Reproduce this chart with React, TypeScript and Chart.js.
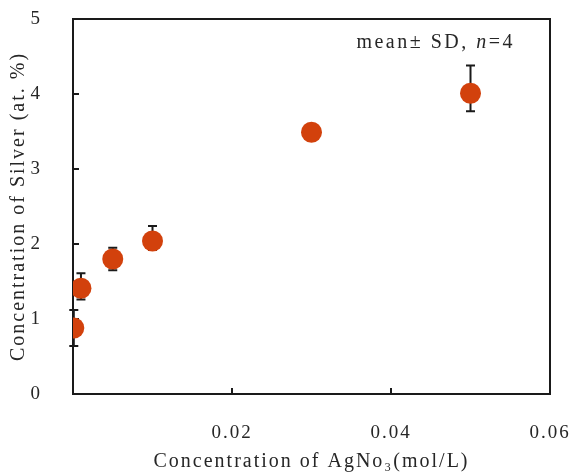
import React, { useEffect, useRef } from 'react';
import { Chart, registerables } from 'chart.js';

Chart.register(...registerables);

// ---- data ----
const concentrations = [0.0001, 0.001, 0.005, 0.01, 0.03, 0.05];
const silverMeans = [0.88, 1.41, 1.8, 2.04, 3.49, 4.01];
const errUp = [0.24, 0.2, 0.15, 0.2, 0.05, 0.37];
const errDown = [0.24, 0.15, 0.15, 0.12, 0.05, 0.24];

const xTitle = 'Concentration of AgNo\u2083(mol/L)';
const yTitle = 'Concentration of Silver (at. %)';
const noteParts = [
  { text: 'mean\u00b1 SD, ', italic: false },
  { text: 'n', italic: true },
  { text: '=4', italic: false },
];
const noteAnchor = { x: 0.0556, y: 4.68 };

const X_MIN = 0;
const X_MAX = 0.06;
const X_STEP = 0.02;
const Y_MIN = 0;
const Y_MAX = 5;
const Y_STEP = 1;

const FONT = "'Liberation Serif', 'Times New Roman', serif";
const TEXT_COLOR = '#262626';
const LINE_COLOR = '#1a1a1a';
const MARKER_COLOR = '#d2410c';

const spacingPlugin = {
  id: 'spacing',
  beforeDraw(chart: any) {
    chart.ctx.letterSpacing = '2px';
  },
  afterDraw(chart: any) {
    chart.ctx.letterSpacing = '0px';
  },
};

const framePlugin = {
  id: 'frame',
  beforeDatasetsDraw(chart: any) {
    const { ctx, chartArea, scales } = chart;
    const xs = scales.x;
    const ys = scales.y;
    ctx.save();
    ctx.letterSpacing = '0px';
    ctx.strokeStyle = LINE_COLOR;
    ctx.lineWidth = 2;
    ctx.strokeRect(chartArea.left, chartArea.top, chartArea.right - chartArea.left, chartArea.bottom - chartArea.top);
    // inward tick marks
    ctx.beginPath();
    ys.ticks.forEach((t: any) => {
      if (t.value <= Y_MIN || t.value >= Y_MAX) return;
      const py = ys.getPixelForValue(t.value);
      ctx.moveTo(chartArea.left, py);
      ctx.lineTo(chartArea.left + 6, py);
    });
    xs.ticks.forEach((t: any) => {
      if (t.value <= X_MIN + 1e-9 || t.value >= X_MAX - 1e-9) return;
      const px = xs.getPixelForValue(t.value);
      ctx.moveTo(px, chartArea.bottom);
      ctx.lineTo(px, chartArea.bottom - 6);
    });
    ctx.stroke();
    // error bars
    ctx.beginPath();
    ctx.lineWidth = 2;
    concentrations.forEach((c, i) => {
      const px = xs.getPixelForValue(c);
      const top = ys.getPixelForValue(silverMeans[i] + errUp[i]);
      const bot = ys.getPixelForValue(silverMeans[i] - errDown[i]);
      ctx.moveTo(px, top);
      ctx.lineTo(px, bot);
      ctx.moveTo(px - 4.5, top);
      ctx.lineTo(px + 4.5, top);
      ctx.moveTo(px - 4.5, bot);
      ctx.lineTo(px + 4.5, bot);
    });
    ctx.stroke();
    ctx.restore();
  },
  afterDatasetsDraw(chart: any) {
    const { ctx, scales } = chart;
    const rx = scales.x.getPixelForValue(noteAnchor.x);
    const py = scales.y.getPixelForValue(noteAnchor.y);
    ctx.save();
    ctx.letterSpacing = '2.5px';
    ctx.fillStyle = TEXT_COLOR;
    ctx.textBaseline = 'middle';
    ctx.textAlign = 'left';
    const fonts = noteParts.map((p) => `${p.italic ? 'italic ' : ''}20px ${FONT}`);
    let total = 0;
    const widths = noteParts.map((p, i) => {
      ctx.font = fonts[i];
      const w = ctx.measureText(p.text).width;
      total += w;
      return w;
    });
    let x = rx - total;
    noteParts.forEach((p, i) => {
      ctx.font = fonts[i];
      ctx.fillText(p.text, x, py);
      x += widths[i];
    });
    ctx.restore();
  },
};

export default function App() {
  const ref = useRef<HTMLCanvasElement | null>(null);

  useEffect(() => {
    if (!ref.current) return;
    const chart = new Chart(ref.current, {
      type: 'scatter',
      data: {
        datasets: [
          {
            label: 'Silver',
            data: concentrations.map((c, i) => ({ x: c, y: silverMeans[i] })),
            backgroundColor: MARKER_COLOR,
            borderWidth: 0,
            pointRadius: 10.5,
            pointHoverRadius: 10.5,
          },
        ],
      },
      options: {
        responsive: false,
        animation: false,
        layout: { autoPadding: false, padding: { left: 0, right: 23, top: 19, bottom: 0 } },
        plugins: { legend: { display: false }, tooltip: { enabled: false } },
        scales: {
          x: {
            type: 'linear',
            min: X_MIN,
            max: X_MAX,
            grid: { display: false },
            border: { display: false },
            ticks: {
              stepSize: X_STEP,
              padding: 20,
              color: TEXT_COLOR,
              font: { family: FONT, size: 19 },
              maxRotation: 0,
              callback: (v: any) => (Number(v) === 0 ? '' : Number(v).toFixed(2)),
            },
            title: {
              display: true,
              text: xTitle,
              color: TEXT_COLOR,
              font: { family: FONT, size: 20, lineHeight: 1 },
              padding: { top: 0, bottom: 0 },
            },
            afterFit: (s: any) => {
              s.height = 78;
              s.paddingLeft = 0;
              s.paddingRight = 0;
            },
          },
          y: {
            min: Y_MIN,
            max: Y_MAX,
            grid: { display: false },
            border: { display: false },
            ticks: {
              stepSize: Y_STEP,
              padding: 23,
              color: TEXT_COLOR,
              font: { family: FONT, size: 19 },
            },
            title: {
              display: true,
              text: yTitle,
              color: TEXT_COLOR,
              font: { family: FONT, size: 20, lineHeight: 1 },
              padding: { top: 9, bottom: 0 },
            },
            afterFit: (s: any) => {
              s.width = 73;
              s.paddingTop = 0;
              s.paddingBottom = 0;
            },
          },
        },
      },
      plugins: [spacingPlugin, framePlugin],
    });
    return () => chart.destroy();
  }, []);

  return (
    <div style={{ position: 'fixed', left: 0, top: 0, width: 573, height: 472, background: '#fff' }}>
      <canvas ref={ref} width={573} height={472} style={{ display: 'block' }} />
    </div>
  );
}
